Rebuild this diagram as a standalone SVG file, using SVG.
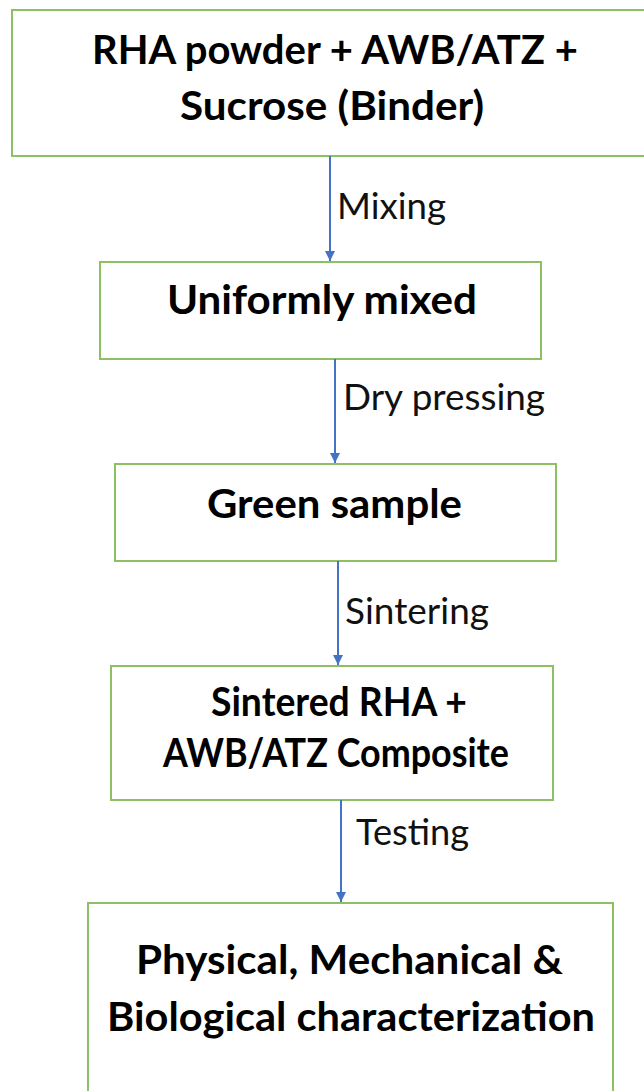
<svg xmlns="http://www.w3.org/2000/svg" width="644" height="1091" viewBox="0 0 644 1091">
<defs>
<style>
.box{fill:#fff;stroke:#8DC063;stroke-width:2}
.t{font-family:Lato,"Open Sans",sans-serif;font-weight:bold;font-size:40px;fill:#000;text-anchor:middle}
.l{font-family:Lato,"Open Sans",sans-serif;font-size:36px;fill:#111}
.c{stroke:#4472C4;stroke-width:2;fill:none}
</style>
<marker id="ah" viewBox="0 0 10 10" refX="10" refY="5" markerWidth="5" markerHeight="5" orient="auto" markerUnits="strokeWidth">
<path d="M0,0 L10,5 L0,10 z" fill="#4472C4"/>
</marker>
</defs>
<rect width="644" height="1091" fill="#fff"/>
<g id="n1"><rect class="box" x="12" y="10" width="640" height="146"/>
<text class="t" x="335" y="64" textLength="486" lengthAdjust="spacingAndGlyphs">RHA powder + AWB/ATZ +</text>
<text class="t" x="332" y="120" textLength="304" lengthAdjust="spacingAndGlyphs">Sucrose (Binder)</text></g>
<g id="n2"><rect class="box" x="100" y="262" width="441" height="97"/>
<text class="t" x="322" y="314" textLength="310" lengthAdjust="spacingAndGlyphs">Uniformly mixed</text></g>
<g id="n3"><rect class="box" x="115" y="464" width="441" height="97"/>
<text class="t" x="334.5" y="518" textLength="255" lengthAdjust="spacingAndGlyphs">Green sample</text></g>
<g id="n4"><rect class="box" x="111" y="666" width="442" height="134"/>
<text class="t" x="339" y="716" textLength="256" lengthAdjust="spacingAndGlyphs">Sintered RHA +</text>
<text class="t" x="336" y="767" textLength="346" lengthAdjust="spacingAndGlyphs">AWB/ATZ Composite</text></g>
<g id="n5"><rect class="box" x="88" y="903" width="525" height="200"/>
<text class="t" x="349.5" y="974" textLength="427" lengthAdjust="spacingAndGlyphs">Physical, Mechanical &amp;</text>
<text class="t" x="351" y="1031" textLength="488" lengthAdjust="spacingAndGlyphs">Biological characterization</text></g>
<g id="connectors">
<line class="c" x1="330" y1="156" x2="330" y2="261" marker-end="url(#ah)"/>
<line class="c" x1="335" y1="359" x2="335" y2="463" marker-end="url(#ah)"/>
<line class="c" x1="338" y1="561" x2="338" y2="665" marker-end="url(#ah)"/>
<line class="c" x1="341" y1="800" x2="341" y2="902" marker-end="url(#ah)"/>
<text class="l" x="337" y="219" textLength="109" lengthAdjust="spacingAndGlyphs">Mixing</text>
<text class="l" x="343" y="410" textLength="202" lengthAdjust="spacingAndGlyphs">Dry pressing</text>
<text class="l" x="345" y="624" textLength="144" lengthAdjust="spacingAndGlyphs">Sintering</text>
<text class="l" x="356" y="845" textLength="113" lengthAdjust="spacingAndGlyphs">Testing</text>
</g>
</svg>
